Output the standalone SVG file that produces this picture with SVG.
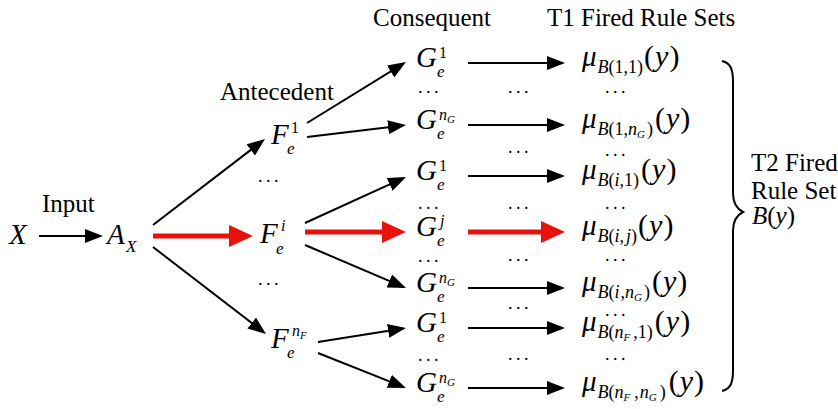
<svg xmlns="http://www.w3.org/2000/svg" width="838" height="409" viewBox="0 0 838 409">
<style>
text{font-family:"Liberation Serif","Times New Roman",serif;fill:#000}
.h{font-size:25px}
.m{font-size:29px;font-style:italic}
.sp{font-size:16px}
.spi{font-size:16px;font-style:italic}
.ss{font-size:11px;font-style:italic}
.se{font-size:17px;font-style:italic}
.s{font-size:18px;font-style:italic}
.sr{font-size:18px;font-style:normal}
.r{font-style:normal}
.p{font-size:30px}
.d{font-size:18px;letter-spacing:3.5px;text-anchor:middle}
.k{stroke:#000;stroke-width:2;fill:none;marker-end:url(#ak)}
.red{stroke:#e8120c;stroke-width:5;fill:none;marker-end:url(#ar)}
</style>
<defs>
<marker id="ak" markerUnits="userSpaceOnUse" markerWidth="18" markerHeight="14" refX="15" refY="7" orient="auto"><path d="M0,0 L18,7 L0,14 z" fill="#000"/></marker>
<marker id="ar" markerUnits="userSpaceOnUse" markerWidth="24" markerHeight="22" refX="18" refY="11" orient="auto"><path d="M0,0 L24,11 L0,22 z" fill="#e8120c"/></marker>
</defs>
<rect width="838" height="409" fill="#fff"/>

<g id="headers">
<text class="h" x="373" y="26">Consequent</text>
<text class="h" x="547" y="26">T1 Fired Rule Sets</text>
<text class="h" x="220" y="100">Antecedent</text>
<text class="h" x="42" y="212">Input</text>
</g>

<g id="connectors">
<line class="k" x1="39" y1="236" x2="100" y2="236"/>
<line class="red" x1="153" y1="236" x2="247" y2="236"/>
<line class="k" x1="153" y1="225" x2="262.6" y2="140.8"/>
<line class="k" x1="153" y1="247" x2="263.6" y2="332.2"/>
<line class="k" x1="307" y1="123" x2="403.4" y2="63.6"/>
<line class="k" x1="307" y1="137" x2="403" y2="125.4"/>
<line class="k" x1="305" y1="223" x2="403.3" y2="178.2"/>
<line class="red" x1="305" y1="232" x2="400" y2="232"/>
<line class="k" x1="305" y1="245" x2="403.2" y2="286.8"/>
<line class="k" x1="318" y1="342" x2="403" y2="328.5"/>
<line class="k" x1="318" y1="353" x2="403.2" y2="386.9"/>
<line class="k" x1="468" y1="63" x2="562" y2="63"/>
<line class="k" x1="468" y1="125" x2="562" y2="125"/>
<line class="k" x1="468" y1="176" x2="562" y2="176"/>
<line class="red" x1="468" y1="232" x2="559" y2="232"/>
<line class="k" x1="468" y1="288" x2="562" y2="288"/>
<line class="k" x1="468" y1="328" x2="562" y2="328"/>
<line class="k" x1="468" y1="388" x2="562" y2="388"/>
</g>

<g id="X"><text class="m" x="9" y="244">X</text></g>
<g id="AX"><text class="m" x="107" y="244">A</text><text class="se" x="126" y="252">X</text></g>

<g id="F1"><text class="m" x="271" y="144">F</text><text class="sp" x="291" y="133">1</text><text class="se" x="287" y="154">e</text></g>
<g id="Fi"><text class="m" x="260" y="243">F</text><text class="spi" x="281" y="231">i</text><text class="se" x="276" y="254">e</text></g>
<g id="FnF"><text class="m" x="271" y="348">F</text><text class="spi" x="292" y="336">n</text><text class="ss" x="300" y="339">F</text><text class="se" x="287" y="358">e</text></g>

<g id="Fdots"><text class="d" x="270" y="182">...</text><text class="d" x="270" y="285">...</text></g>

<g id="G1a"><text class="m" x="416" y="67">G</text><text class="sp" x="439" y="58">1</text><text class="se" x="437" y="77">e</text></g>
<g id="GnGa"><text class="m" x="416" y="129">G</text><text class="spi" x="439" y="120">n</text><text class="ss" x="447" y="123">G</text><text class="se" x="437" y="139">e</text></g>
<g id="G1b"><text class="m" x="416" y="180">G</text><text class="sp" x="439" y="171">1</text><text class="se" x="437" y="190">e</text></g>
<g id="Gj"><text class="m" x="416" y="236">G</text><text class="spi" x="440" y="226">j</text><text class="se" x="437" y="246">e</text></g>
<g id="GnGb"><text class="m" x="416" y="292">G</text><text class="spi" x="439" y="283">n</text><text class="ss" x="447" y="286">G</text><text class="se" x="437" y="302">e</text></g>
<g id="G1c"><text class="m" x="416" y="332">G</text><text class="sp" x="439" y="323">1</text><text class="se" x="437" y="342">e</text></g>
<g id="GnGc"><text class="m" x="416" y="392">G</text><text class="spi" x="439" y="383">n</text><text class="ss" x="447" y="386">G</text><text class="se" x="437" y="402">e</text></g>

<g id="dots">
<text class="d" x="430" y="93">...</text><text class="d" x="520" y="93">...</text><text class="d" x="617" y="93">...</text>
<text class="d" x="520" y="153">...</text><text class="d" x="617" y="156">...</text>
<text class="d" x="430" y="209">...</text><text class="d" x="520" y="209">...</text><text class="d" x="617" y="209">...</text>
<text class="d" x="430" y="262">...</text><text class="d" x="520" y="261">...</text><text class="d" x="617" y="261">...</text>
<text class="d" x="520" y="309">...</text><text class="d" x="617" y="316">...</text>
<text class="d" x="430" y="361">...</text><text class="d" x="520" y="360">...</text><text class="d" x="617" y="360">...</text>
</g>

<g id="mu11"><text class="m" x="582" y="66">μ<tspan class="s" dy="7" dx="1">B</tspan><tspan class="sr">(1,1)</tspan><tspan class="r p" dy="-7" dx="1">(</tspan><tspan class="p" dx="1">y</tspan><tspan class="r p" dx="1">)</tspan></text></g>
<g id="mu1n"><text class="m" x="582" y="128">μ<tspan class="s" dy="7" dx="1">B</tspan><tspan class="sr">(1,</tspan><tspan class="s">n</tspan><tspan class="ss" dy="3">G</tspan><tspan class="sr" dy="-3" dx="2">)</tspan><tspan class="r p" dy="-7" dx="2">(</tspan><tspan class="p" dx="1">y</tspan><tspan class="r p" dx="1">)</tspan></text></g>
<g id="mui1"><text class="m" x="582" y="179">μ<tspan class="s" dy="7" dx="1">B</tspan><tspan class="sr">(</tspan><tspan class="s">i</tspan><tspan class="sr">,1)</tspan><tspan class="r p" dy="-7" dx="2">(</tspan><tspan class="p" dx="1">y</tspan><tspan class="r p" dx="1">)</tspan></text></g>
<g id="muij"><text class="m" x="582" y="235">μ<tspan class="s" dy="7" dx="1">B</tspan><tspan class="sr">(</tspan><tspan class="s">i</tspan><tspan class="sr">,</tspan><tspan class="s" dx="2">j</tspan><tspan class="sr">)</tspan><tspan class="r p" dy="-7" dx="1">(</tspan><tspan class="p" dx="1">y</tspan><tspan class="r p" dx="1">)</tspan></text></g>
<g id="muin"><text class="m" x="582" y="291">μ<tspan class="s" dy="7" dx="1">B</tspan><tspan class="sr">(</tspan><tspan class="s">i</tspan><tspan class="sr" dx="1">,</tspan><tspan class="s">n</tspan><tspan class="ss" dy="3">G</tspan><tspan class="sr" dy="-3" dx="2">)</tspan><tspan class="r p" dy="-7" dx="2">(</tspan><tspan class="p" dx="1">y</tspan><tspan class="r p" dx="1">)</tspan></text></g>
<g id="mun1"><text class="m" x="582" y="331">μ<tspan class="s" dy="7" dx="1">B</tspan><tspan class="sr">(</tspan><tspan class="s">n</tspan><tspan class="ss" dy="3">F</tspan><tspan class="sr" dy="-3" dx="3">,1)</tspan><tspan class="r p" dy="-7" dx="2">(</tspan><tspan class="p" dx="1">y</tspan><tspan class="r p" dx="1">)</tspan></text></g>
<g id="munn"><text class="m" x="582" y="391">μ<tspan class="s" dy="7" dx="1">B</tspan><tspan class="sr">(</tspan><tspan class="s">n</tspan><tspan class="ss" dy="3">F</tspan><tspan class="sr" dy="-3" dx="4">,</tspan><tspan class="s" dx="1">n</tspan><tspan class="ss" dy="3">G</tspan><tspan class="sr" dy="-3" dx="3">)</tspan><tspan class="r p" dy="-7" dx="3">(</tspan><tspan class="p" dx="1">y</tspan><tspan class="r p" dx="1">)</tspan></text></g>

<g id="brace"><path d="M722,61 C731,63 733,70 733,82 L733,193 C733,203 737,209 743,212 C737,215 733,221 733,231 L733,370 C733,382 731,389 722,391" fill="none" stroke="#000" stroke-width="2"/></g>

<g id="T2">
<text class="h" x="751" y="171">T2 Fired</text>
<text class="h" x="751" y="199">Rule Set</text>
<text class="h" x="752" y="224"><tspan font-style="italic">B</tspan>(<tspan font-style="italic">y</tspan>)</text>
</g>
</svg>
